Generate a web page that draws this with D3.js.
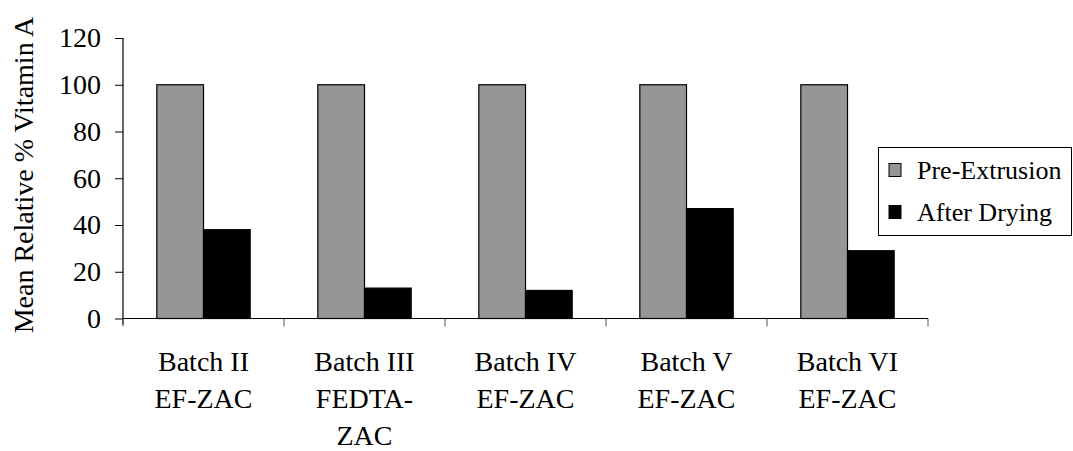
<!DOCTYPE html>
<html>
<head>
<meta charset="utf-8">
<script src="https://cdn.jsdelivr.net/npm/d3@7"></script>
<style>
  html, body { margin: 0; padding: 0; background: #fff; }
  svg { display: block; }
</style>
</head>
<body>
<svg id="chart" width="1073" height="451"></svg>
<script>
// Batches and their two-line labels
const categories = ["Batch II", "Batch III", "Batch IV", "Batch V", "Batch VI"];
const categoryLines = [
  ["Batch II", "EF-ZAC"],
  ["Batch III", "FEDTA-", "ZAC"],
  ["Batch IV", "EF-ZAC"],
  ["Batch V", "EF-ZAC"],
  ["Batch VI", "EF-ZAC"]
];
const seriesNames = ["Pre-Extrusion", "After Drying"];
const preExtrusion = [100, 100, 100, 100, 100];
const afterDrying = [38, 13, 12, 47, 29];
const yTicks = [0, 20, 40, 60, 80, 100, 120];
const yTitle = "Mean Relative % Vitamin A";

const seriesValues = [preExtrusion, afterDrying];
const colors = ["#969696", "#000000"];
const FONT = '"Liberation Serif"';

const svg = d3.select("#chart");

const plot = { left: 123, right: 928, top: 38, bottom: 318.5 };

const x = d3.scaleBand()
  .domain(categories)
  .range([plot.left, plot.right])
  .paddingInner(0).paddingOuter(0);

const y = d3.scaleLinear()
  .domain([0, 120])
  .range([plot.bottom, plot.top]);

// two bars per batch, centred in each band
const barW = x.bandwidth() * 0.29;
const xs = d3.scaleBand()
  .domain(seriesNames)
  .range([(x.bandwidth() - 2 * barW) / 2, (x.bandwidth() + 2 * barW) / 2]);

const rows = categories.map((c, i) => ({ cat: c, vals: seriesNames.map((s, j) => ({ s, j, v: seriesValues[j][i] })) }));

const groups = svg.append("g").selectAll("g")
  .data(rows).join("g")
  .attr("transform", d => `translate(${x(d.cat)},0)`);

groups.selectAll("rect")
  .data(d => d.vals).join("rect")
  .attr("x", d => xs(d.s))
  .attr("y", d => y(d.v))
  .attr("width", xs.bandwidth())
  .attr("height", d => y(0) - y(d.v))
  .attr("fill", d => colors[d.j])
  .attr("stroke", "#000")
  .attr("stroke-width", 1.2);

// y axis
const yAxis = d3.axisLeft(y).tickValues(yTicks).tickSize(8).tickPadding(14);
const gy = svg.append("g")
  .attr("transform", `translate(${plot.left},0)`)
  .call(yAxis)
  .attr("font-family", "Liberation Serif")
  .attr("font-size", 28);
gy.select(".domain").attr("stroke", "#000").attr("stroke-width", 1.2).attr("d", `M0,${plot.top}V${plot.bottom + 6}`);
gy.selectAll(".tick line").attr("stroke", "#000");
gy.selectAll(".tick text")
  .style("font-family", FONT)
  .style("font-size", "28px")
  .attr("fill", "#000");

// x axis with boundary ticks between batches
const boundaries = categories.map(c => x(c)).concat([plot.right]);
const gx = svg.append("g");
gx.append("line")
  .attr("x1", plot.left).attr("x2", plot.right)
  .attr("y1", y(0)).attr("y2", y(0))
  .attr("stroke", "#000").attr("stroke-width", 1.2);
gx.selectAll("line.tk")
  .data(boundaries).join("line")
  .attr("class", "tk")
  .attr("x1", d => d).attr("x2", d => d)
  .attr("y1", y(0)).attr("y2", y(0) + 8)
  .attr("stroke", "#555").attr("stroke-width", 1);

// category labels
const labels = svg.append("g").selectAll("text")
  .data(categories.map((c, i) => ({ c, lines: categoryLines[i] })))
  .join("text")
  .attr("text-anchor", "middle")
  .style("font-family", FONT)
  .style("font-size", "28px")
  .attr("fill", "#000");
labels.selectAll("tspan")
  .data(d => d.lines.map((l, k) => ({ l, k, c: d.c })))
  .join("tspan")
  .attr("x", d => x(d.c) + x.bandwidth() / 2)
  .attr("y", d => 371 + d.k * 37)
  .text(d => d.l);

// y axis title
svg.append("text")
  .attr("transform", `translate(33,175) rotate(-90)`)
  .attr("text-anchor", "middle")
  .style("font-family", FONT)
  .style("font-size", "28px")
  .attr("fill", "#000")
  .text(yTitle);

// legend
const legend = svg.append("g");
legend.append("rect")
  .attr("x", 878.5).attr("y", 147.5)
  .attr("width", 193).attr("height", 88)
  .attr("fill", "#fff").attr("stroke", "#000").attr("stroke-width", 1);
const li = legend.selectAll("g.item")
  .data(seriesNames).join("g")
  .attr("class", "item")
  .attr("transform", (d, i) => `translate(889,${170 + i * 42})`);
li.append("rect")
  .attr("x", 0).attr("y", -6.5)
  .attr("width", 12).attr("height", 13)
  .attr("fill", (d, i) => colors[i])
  .attr("stroke", "#000").attr("stroke-width", 1);
li.append("text")
  .attr("x", 28).attr("y", 9)
  .style("font-family", FONT)
  .style("font-size", "26px")
  .attr("fill", "#000")
  .text(d => d);
</script>
</body>
</html>
